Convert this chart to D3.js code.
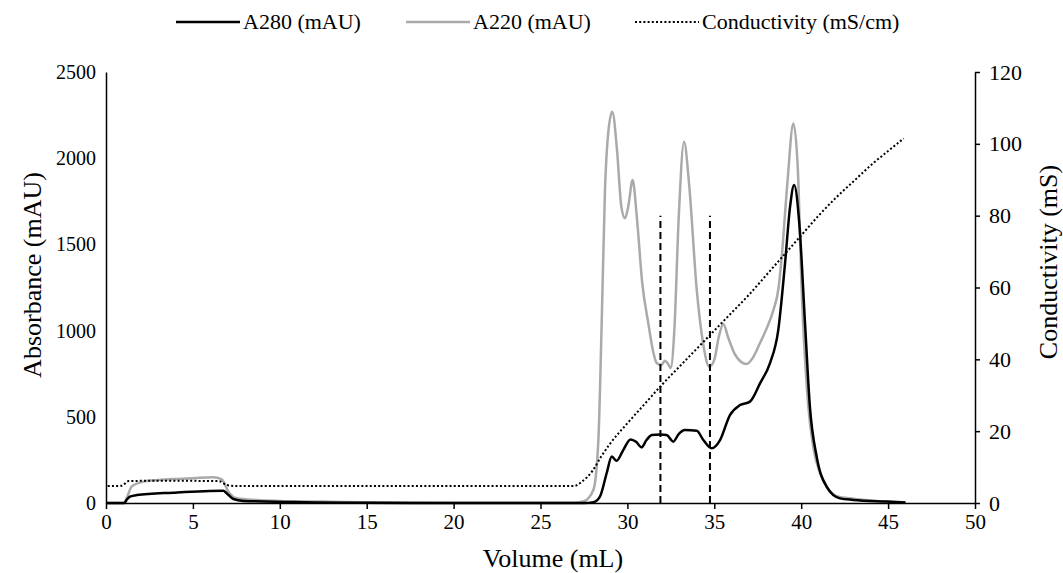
<!DOCTYPE html>
<html>
<head>
<meta charset="utf-8">
<script src="https://cdn.jsdelivr.net/npm/d3@7"></script>
<style>
  body { margin: 0; background: #fff; }
</style>
</head>
<body>
<div id="chart"></div>
<script>
// A280 trace (volume mL, mAU)
const a280Vol = [0, 1.05, 1.2, 1.38, 1.77, 3.87, 6.75, 6.94, 7.33, 7.9, 10.6, 12, 15, 20, 25, 27.5,
  28.04, 28.42, 28.81, 29.1, 29.38, 29.76, 30.18, 30.5, 30.81, 31.1, 31.4, 31.88, 32.26, 32.64, 32.95,
  33.31, 33.99, 34.37, 34.85, 35.33, 35.9, 36.48, 37.05, 37.63, 38.2, 38.68, 39.07, 39.36, 39.59,
  39.89, 40.22, 40.5, 40.89, 41.46, 42.23, 43, 44.9, 46];
const a280Val = [0, 0, 20, 37, 46, 60, 71, 57, 23, 12, 6, 3, 1, 0, 0, 0,
  5, 37, 174, 269, 245, 307, 369, 355, 323, 365, 394, 398, 394, 356, 400,
  423, 419, 365, 317, 365, 510, 568, 588, 694, 810, 1003, 1390, 1719, 1845,
  1622, 1042, 559, 269, 95, 27, 18, 8, 3];

// A220 trace
const a220Vol = [0, 1.0, 1.2, 1.47, 2.15, 3.0, 3.87, 5.0, 6.17, 6.66, 7.04, 7.52, 8.67, 10, 12.5, 15, 20, 25,
  27.0, 27.5, 28.04, 28.33, 28.52, 28.71, 28.9, 29.13, 29.4, 29.65, 29.86, 30.05, 30.3, 30.55, 30.85,
  31.2, 31.5, 31.68, 31.95, 32.16, 32.35, 32.49, 32.7, 32.95, 33.26, 33.55, 33.99, 34.35, 34.71, 35.0,
  35.25, 35.52, 35.8, 36.2, 36.86, 37.2, 37.63, 38.0, 38.4, 38.7, 38.88, 39.2, 39.55, 39.8, 40.03,
  40.41, 40.7, 41.08, 41.5, 42.04, 43, 44, 45, 46];
const a220Val = [0, 0, 30, 95, 124, 133, 139, 144, 149, 137, 66, 27, 17, 12, 8, 4, 2, 1,
  2, 10, 75, 365, 1044, 1815, 2150, 2270, 2050, 1720, 1651, 1720, 1873, 1650, 1280,
  1044, 870, 812, 800, 825, 805, 783, 1000, 1650, 2096, 1850, 1236, 930, 791, 830,
  960, 1038, 960, 860, 806, 840, 928, 1010, 1119, 1250, 1429, 1850, 2202, 1950, 1235,
  559, 320, 173, 90, 40, 25, 15, 8, 4];

// Conductivity (mS/cm)
const condVol = [0.1, 0.9, 1.3, 3, 6.5, 6.95, 7.5, 15, 26.9, 27.4, 28.0, 28.5, 29.0, 30, 31, 32, 33, 34,
  35, 36, 37, 38, 39, 40, 41, 42, 43, 44, 45, 45.9];
const condVal = [4.7, 4.8, 6.1, 6.2, 6.1, 5.0, 4.7, 4.7, 4.7, 6.0, 9.0, 13.0, 16.5, 22.2, 27.6, 33, 38, 43,
  48, 53, 58, 63.5, 69, 74.5, 80, 85, 89.5, 94, 98, 101.5];

// Fraction cut marks (volume) and their height on conductivity axis
const cutVol = [31.9, 34.75];
const cutTop = 80;

const xTicks = d3.range(0, 51, 5);
const yLeftTicks = [0, 500, 1000, 1500, 2000, 2500];
const yRightTicks = [0, 20, 40, 60, 80, 100, 120];

const legendLabels = ["A280 (mAU)", "A220 (mAU)", "Conductivity (mS/cm)"];

const WIDTH = 1063, HEIGHT = 573;
const MARGINS = { top: 72, right: 88, bottom: 70, left: 106 };
const FONT = "Liberation Serif";

const svg = d3.select("#chart").append("svg")
  .attr("width", WIDTH)
  .attr("height", HEIGHT)
  .attr("viewBox", [0, 0, WIDTH, HEIGHT]);

const x = d3.scaleLinear().domain([0, 50]).range([MARGINS.left, WIDTH - MARGINS.right]);
const yL = d3.scaleLinear().domain([0, 2500]).range([HEIGHT - MARGINS.bottom, MARGINS.top]);
const yR = d3.scaleLinear().domain([0, 120]).range([HEIGHT - MARGINS.bottom, MARGINS.top]);

const STYLES = [
  { stroke: "#000", width: 2.5, dash: null },
  { stroke: "#aaaaaa", width: 2.5, dash: null },
  { stroke: "#000", width: 2, dash: "2,2.2" }
];

// Lines
const lineL = d3.line().x(d => x(d[0])).y(d => yL(d[1])).curve(d3.curveMonotoneX);
const lineR = d3.line().x(d => x(d[0])).y(d => yR(d[1])).curve(d3.curveMonotoneX);

svg.append("path")
  .datum(d3.zip(a220Vol, a220Val))
  .attr("d", lineL)
  .attr("fill", "none")
  .attr("stroke", STYLES[1].stroke)
  .attr("stroke-width", STYLES[1].width);

svg.append("path")
  .datum(d3.zip(a280Vol, a280Val))
  .attr("d", lineL)
  .attr("fill", "none")
  .attr("stroke", STYLES[0].stroke)
  .attr("stroke-width", STYLES[0].width);

svg.append("path")
  .datum(d3.zip(condVol, condVal))
  .attr("d", lineR)
  .attr("fill", "none")
  .attr("stroke", STYLES[2].stroke)
  .attr("stroke-width", STYLES[2].width)
  .attr("stroke-dasharray", STYLES[2].dash);

// Fraction cut lines
cutVol.forEach(function(v) {
  svg.append("line")
    .attr("x1", x(v)).attr("x2", x(v))
    .attr("y1", yR(0)).attr("y2", yR(cutTop))
    .attr("stroke", "#000")
    .attr("stroke-width", 2)
    .attr("stroke-dasharray", "7,4");
});

// Axes
const fmt = d3.format("d");
const xAxis = svg.append("g")
  .attr("transform", `translate(0,${HEIGHT - MARGINS.bottom})`)
  .call(d3.axisBottom(x).tickValues(xTicks).tickFormat(fmt).tickSize(6).tickSizeOuter(0).tickPadding(5));
xAxis.selectAll("text").attr("font-size", 21);

const leftAxis = svg.append("g")
  .attr("transform", `translate(${MARGINS.left},0)`)
  .call(d3.axisLeft(yL).tickValues(yLeftTicks).tickFormat(fmt).tickSize(0).tickPadding(10).tickSizeOuter(0));
leftAxis.selectAll("text").attr("font-size", 20);

const rightAxis = svg.append("g")
  .attr("transform", `translate(${WIDTH - MARGINS.right},0)`)
  .call(d3.axisRight(yR).tickValues(yRightTicks).tickFormat(fmt).tickSize(5).tickPadding(9).tickSizeOuter(0));
rightAxis.selectAll("text").attr("font-size", 22);

[xAxis, leftAxis, rightAxis].forEach(function(g) {
  g.select(".domain").attr("stroke", "#000").attr("stroke-width", 1.5);
  g.selectAll(".tick line").attr("stroke", "#000").attr("stroke-width", 1.5);
  g.selectAll("text").attr("fill", "#000");
});

// Axis titles
svg.append("text")
  .text("Volume (mL)")
  .attr("x", 553)
  .attr("y", 567)
  .attr("text-anchor", "middle")
  .attr("font-size", 26);

svg.append("text")
  .text("Absorbance (mAU)")
  .attr("transform", "translate(41,275) rotate(-90)")
  .attr("text-anchor", "middle")
  .attr("font-size", 26);

svg.append("text")
  .text("Conductivity (mS)")
  .attr("transform", "translate(1057,262) rotate(-90)")
  .attr("text-anchor", "middle")
  .attr("font-size", 26);

// Legend
const legendX = [176, 406, 635];
legendLabels.forEach(function(label) {
  const i = legendLabels.indexOf(label);
  const s = STYLES[i];
  svg.append("line")
    .attr("x1", legendX[i]).attr("x2", legendX[i] + 64)
    .attr("y1", 22).attr("y2", 22)
    .attr("stroke", s.stroke)
    .attr("stroke-width", s.width)
    .attr("stroke-dasharray", s.dash);
  svg.append("text")
    .text(label)
    .attr("x", legendX[i] + 67)
    .attr("y", 29)
    .attr("font-size", 22);
});

// Serif on every text element
svg.selectAll("text").attr("font-family", FONT);
</script>
</body>
</html>
